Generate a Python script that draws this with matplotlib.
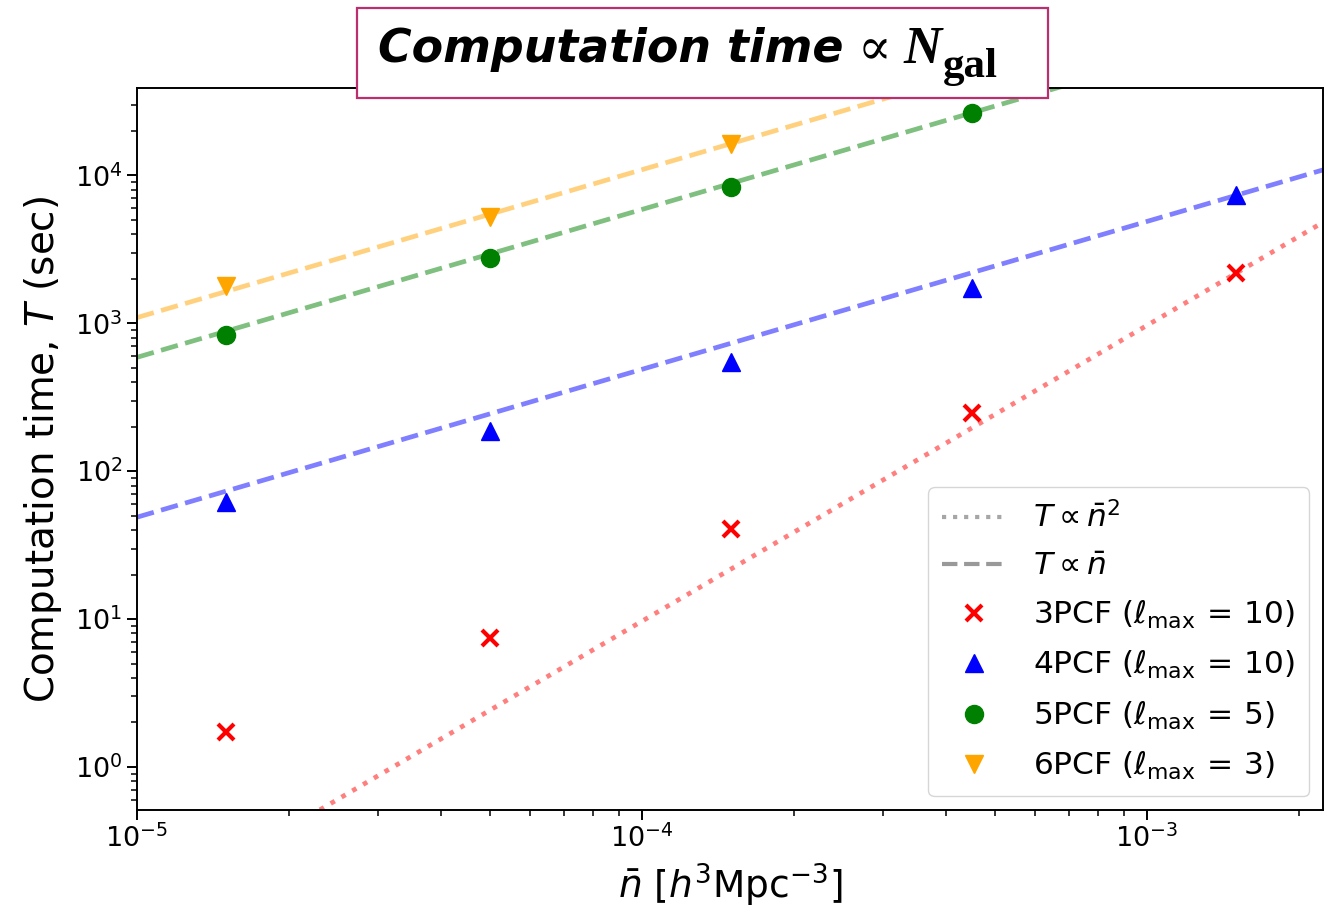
import matplotlib
matplotlib.use('Agg')
import matplotlib.pyplot as plt
from matplotlib.patches import Rectangle
from matplotlib.lines import Line2D
import numpy as np

# ---- data ----
density = [1.5e-5, 5e-5, 1.5e-4, 4.5e-4, 1.5e-3]
t_3pcf = [1.72, 7.4, 40.5, 246, 2180]
t_4pcf = [62, 187, 550, 1740, 7330]
t_5pcf = [830, 2750, 8300, 26500]
t_6pcf = [1780, 5230, 16400]
series_labels = [r'3PCF ($\ell_{\rm max}\,=\,10$)', r'4PCF ($\ell_{\rm max}\,=\,10$)',
                 r'5PCF ($\ell_{\rm max}\,=\,5$)', r'6PCF ($\ell_{\rm max}\,=\,3$)']
series_colors = ['red', 'blue', 'green', 'orange']
series_markers = ['x', '^', 'o', 'v']
scaling_power = [2, 1, 1, 1]

W, H = 1325, 910
fig = plt.figure(figsize=(W / 100, H / 100), dpi=100)
ax = fig.add_axes([137 / W, 1 - 810 / H, (1323 - 137) / W, (810 - 88) / H])
ax.set_xscale('log')
ax.set_yscale('log')
xmin, xmax = 1e-5, 2.23e-3
ax.set_xlim(xmin, xmax)
ax.set_ylim(0.512, 3.9e4)

xl = np.logspace(np.log10(xmin), np.log10(xmax), 200)
all_t = [t_3pcf, t_4pcf, t_5pcf, t_6pcf]
for t, c, m, p in zip(all_t, series_colors, series_markers, scaling_power):
    x = np.array(density[:len(t)])
    t = np.array(t)
    amp = t[-1] / x[-1] ** p
    ls = ':' if p == 2 else '--'
    ax.plot(xl, amp * xl ** p, ls=ls, color=c, alpha=0.5, lw=3.4, zorder=2)
    if m == 'x':
        ax.plot(x, t, ls='none', marker=m, color=c, ms=12, mew=3, zorder=3)
    else:
        ax.plot(x, t, ls='none', marker=m, color=c, ms=13, zorder=3)

handles = [Line2D([], [], ls=':', color='gray', lw=3, alpha=0.7),
           Line2D([], [], ls='--', color='gray', lw=3, alpha=0.8)]
for c, m in zip(series_colors, series_markers):
    if m == 'x':
        handles.append(Line2D([], [], ls='none', marker=m, color=c, ms=12, mew=3))
    else:
        handles.append(Line2D([], [], ls='none', marker=m, color=c, ms=13))
leg_labels = [r'$T \propto \bar{n}^2$', r'$T \propto \bar{n}$'] + series_labels
ax.legend(handles, leg_labels, loc='lower right', fontsize=22.5, handlelength=2.0,
          labelspacing=0.58, borderpad=0.45, handletextpad=0.9, borderaxespad=0.45)

ax.tick_params(axis='both', which='major', labelsize=19.5, length=7, width=1.4)
ax.tick_params(axis='both', which='minor', length=4, width=1.1)
for s in ax.spines.values():
    s.set_linewidth(1.4)
ax.set_xlabel(r'$\bar{n}$ [$h^3$Mpc$^{-3}$]', fontsize=27, labelpad=6)
ax.set_ylabel(r'Computation time, $T$ (sec)', fontsize=28, labelpad=8)

# ---- boxed title ----
box = Rectangle((357 / W, 1 - 98 / H), (1048 - 357) / W, (98 - 8) / H,
                transform=fig.transFigure, facecolor='white', edgecolor='#bb2f6e',
                lw=1.6, zorder=10)
fig.add_artist(box)
ty = 1 - 50 / H
t1 = fig.text(378 / W, ty, 'Computation time', fontsize=33, fontweight='bold',
              fontstyle='italic', family='DejaVu Sans', va='center', ha='left', zorder=11)
fig.canvas.draw()
r = fig.canvas.get_renderer()
bb = t1.get_window_extent(r)
t2 = fig.text((bb.x1 + 14) / W, ty, '\u221d', fontsize=36, family='DejaVu Serif',
              va='center', ha='left', zorder=11)
bb2 = t2.get_window_extent(r)
t3 = fig.text((bb2.x1 + 12) / W, ty, 'N', fontsize=38, fontweight='bold', fontstyle='italic',
              family='Liberation Serif', va='center', ha='left', zorder=11)
bb3 = t3.get_window_extent(r)
t4 = fig.text((bb3.x1 + 1) / W, ty - 17 / H, 'gal', fontsize=31, fontweight='bold',
              family='Liberation Serif', va='center', ha='left', zorder=11)

fig.savefig('out.png', dpi=100)
